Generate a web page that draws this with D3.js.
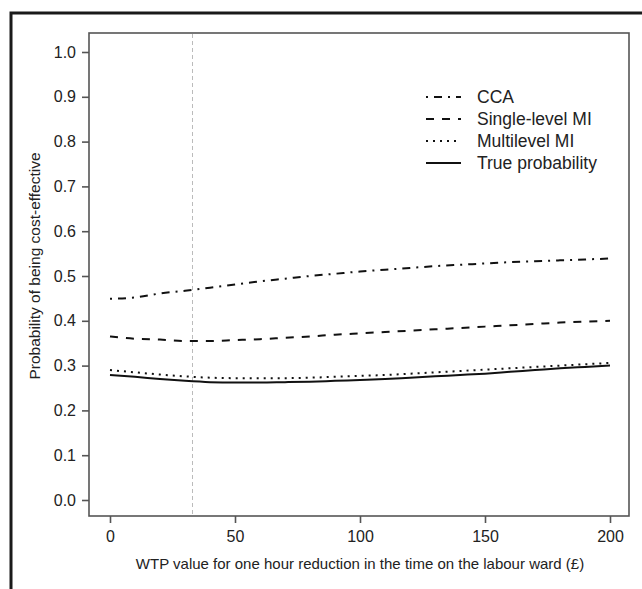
<!DOCTYPE html>
<html><head><meta charset="utf-8">
<script src="https://cdn.jsdelivr.net/npm/d3@7"></script>
<style>body{margin:0;background:#fff;} text{font-family:"Liberation Sans",Arial,sans-serif;fill:#222;}</style>
</head><body>
<svg id="c" width="642" height="589"></svg>
<script>
const wtp = [0,10,20,30,40,50,60,70,80,90,100,110,120,130,140,150,160,170,180,190,200];
const cca = [0.449,0.452,0.461,0.467,0.474,0.481,0.488,0.494,0.500,0.505,0.510,0.514,0.518,0.522,0.525,0.528,0.531,0.533,0.535,0.537,0.539];
const singleMI = [0.365,0.360,0.358,0.355,0.355,0.357,0.359,0.362,0.365,0.369,0.372,0.375,0.378,0.381,0.384,0.387,0.390,0.393,0.396,0.398,0.400];
const multiMI = [0.290,0.285,0.280,0.276,0.273,0.272,0.272,0.272,0.273,0.275,0.277,0.279,0.282,0.285,0.288,0.291,0.294,0.297,0.300,0.303,0.306];
const trueProb = [0.279,0.275,0.270,0.266,0.263,0.262,0.262,0.263,0.264,0.266,0.268,0.270,0.273,0.276,0.279,0.282,0.286,0.290,0.294,0.297,0.300];
const seriesNames = ["CCA","Single-level MI","Multilevel MI","True probability"];
const xTicks = [0,50,100,150,200];
const yTicks = [0,0.1,0.2,0.3,0.4,0.5,0.6,0.7,0.8,0.9,1.0];
const thresholdWTP = 33;

const svg = d3.select("#c");
svg.append("rect").attr("x",11).attr("y",13).attr("width",640).attr("height",590)
  .attr("fill","none").attr("stroke","#1a1a1a").attr("stroke-width",3);

const x = d3.scaleLinear().domain([0,200]).range([110,610]);
const y = d3.scaleLinear().domain([0,1]).range([500,52]);
const box = {l:89,t:33,r:629,b:516};

svg.append("rect").attr("x",box.l).attr("y",box.t).attr("width",box.r-box.l).attr("height",box.b-box.t)
  .attr("fill","none").attr("stroke","#555").attr("stroke-width",1.6);

svg.append("line").attr("x1",x(thresholdWTP)).attr("x2",x(thresholdWTP)).attr("y1",box.t+1).attr("y2",box.b-1)
  .attr("stroke","#bbb").attr("stroke-width",1).attr("stroke-dasharray","4,3");

const xa = svg.append("g").attr("transform",`translate(0,${box.b})`)
  .call(d3.axisBottom(x).tickValues(xTicks).tickSize(7).tickPadding(8).tickFormat(d3.format("d")));
xa.select(".domain").remove();
const ya = svg.append("g").attr("transform",`translate(${box.l},0)`)
  .call(d3.axisLeft(y).tickValues(yTicks).tickSize(7).tickPadding(6).tickFormat(d3.format(".1f")));
ya.select(".domain").remove();
svg.selectAll(".tick line").attr("stroke","#555").attr("stroke-width",1.6);
svg.selectAll(".tick text").style("font-size","16px").attr("fill","#222").style("font-family","Liberation Sans, Arial, sans-serif");

svg.append("text").attr("x",(x(0)+x(200))/2).attr("y",569).attr("text-anchor","middle").style("font-size","15px")
  .text("WTP value for one hour reduction in the time on the labour ward (£)");
svg.append("text").attr("transform",`translate(40,266) rotate(-90)`).attr("text-anchor","middle").style("font-size","15.5px")
  .text("Probability of being cost-effective");

const dashes = ["2,6,8,6","8,8","2,5","none"];
const data = [cca,singleMI,multiMI,trueProb];
const line = d3.line().x((d,i)=>x(wtp[i])).y(d=>y(d)).curve(d3.curveMonotoneX);
data.forEach((s,k)=>{
  svg.append("path").attr("d",line(s)).attr("fill","none").attr("stroke","#111")
    .attr("stroke-width",2).attr("stroke-dasharray",dashes[k]);
});

const legY = [97,119,141,163];
seriesNames.forEach((n,k)=>{
  svg.append("line").attr("x1",426).attr("x2",461).attr("y1",legY[k]).attr("y2",legY[k])
    .attr("stroke","#111").attr("stroke-width",2).attr("stroke-dasharray",dashes[k]);
  svg.append("text").attr("x",477).attr("y",legY[k]+6).style("font-size","17.5px").text(n);
});
</script>
</body></html>
